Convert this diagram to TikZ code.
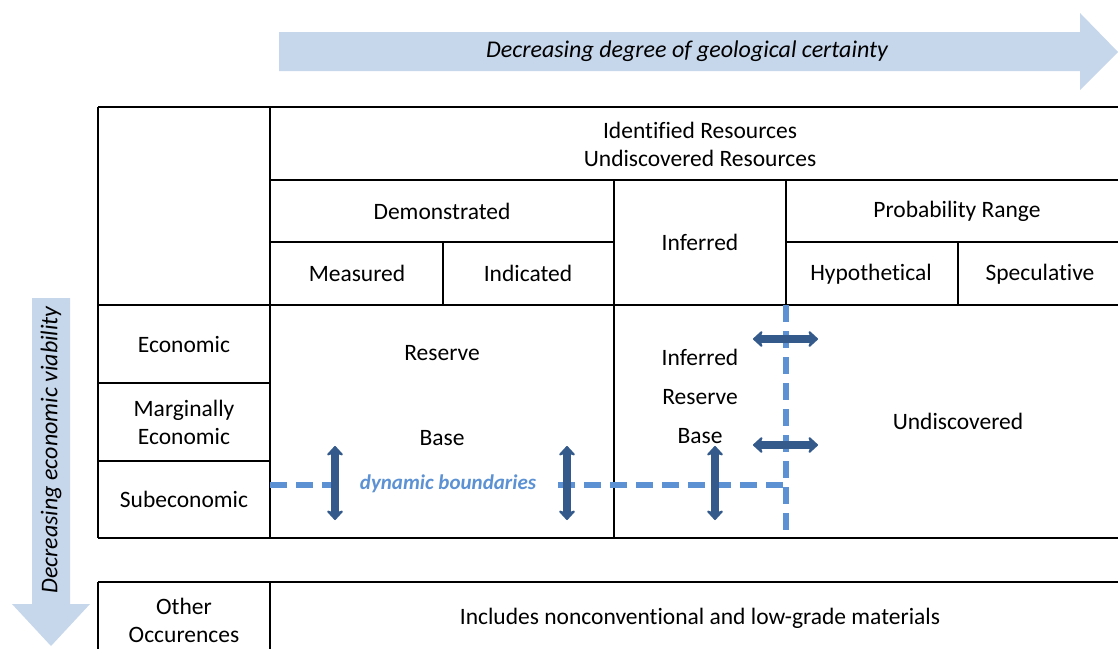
\documentclass[tikz,border=0pt]{standalone}
\usepackage{fontspec}
\setmainfont{Carlito}[Ligatures=NoCommon]
\usetikzlibrary{arrows.meta}
\definecolor{bandblue}{RGB}{198,214,235}
\definecolor{dashblue}{RGB}{92,146,212}
\definecolor{shiftblue}{RGB}{52,90,140}

\begin{document}
\begin{tikzpicture}[
  x=1pt, y=-1pt,
  font=\fontsize{23.5}{28}\selectfont,
  tabline/.style={line width=1.9pt, black},
  cell/.style={align=center, inner sep=0pt},
  band/.style={fill=bandblue, draw=none},
  bandtext/.style={font=\fontsize{24}{28}\selectfont\itshape},
  boundary/.style={dashblue, line width=6pt, dash pattern=on 17pt off 9pt},
  shiftarrow/.style={shiftblue, line width=7.5pt,
    {Stealth[round, length=11pt, width=20pt]}-{Stealth[round, length=11pt, width=20pt]}},
]
\useasboundingbox (0,0) rectangle (1118,648);
\clip (0,0) rectangle (1118,648);
\fill[white] (0,0) rectangle (1118,648);

% === Direction arrows ===
\fill[band] (279,32) -- (1080,32) -- (1080,13) -- (1118,52) -- (1080,90)
  -- (1080,71) -- (279,71) -- cycle;
\node[bandtext] (certainty) at (687,51) {Decreasing degree of geological certainty};
\fill[band] (32,298) -- (70,298) -- (70,604) -- (90,604) -- (51,646) -- (12,604)
  -- (32,604) -- cycle;
\node[bandtext, rotate=90] (viability) at (51,450) {Decreasing economic viability};

% === Main table ===
\draw[tabline] (98,107) -- (1130,107);
\draw[tabline] (270,180) -- (1130,180);
\draw[tabline] (270,242) -- (614,242) (786,242) -- (1130,242);
\draw[tabline] (98,305) -- (1130,305);
\draw[tabline] (98,383) -- (270,383);
\draw[tabline] (98,461) -- (270,461);
\draw[tabline] (98,538) -- (1130,538);
\draw[tabline] (98,107) -- (98,538);
\draw[tabline] (270,107) -- (270,538);
\draw[tabline] (443,242) -- (443,305);
\draw[tabline] (614,180) -- (614,538);
\draw[tabline] (786,180) -- (786,305);
\draw[tabline] (958,242) -- (958,305);

% header cells
\node[cell] (resources) at (700,144) {Identified Resources\\Undiscovered Resources};
\node[cell] (demonstrated) at (442,211) {Demonstrated};
\node[cell] (inferred)     at (700,242) {Inferred};
\node[cell] (probability)  at (957,211) {Probability Range};
\node[cell] (measured)     at (357,273) {Measured};
\node[cell] (indicated)    at (528,273) {Indicated};
\node[cell] (hypothetical) at (871,274) {Hypothetical};
\node[cell] (speculative)  at (1040,274) {Speculative};

% row labels
\node[cell] (economic)    at (184,344) {Economic};
\node[cell] (marginal)    at (184,422) {Marginally\\Economic};
\node[cell] (subeconomic) at (184,499) {Subeconomic};

% body cells
\node[cell] (reserve)   at (442,353) {Reserve};
\node[cell] (base)      at (442,438) {Base};
\node[cell] (infres)    at (700,396) {Inferred\\[11pt]Reserve\\[11pt]Base};
\node[cell] (undisc)    at (958,421) {Undiscovered};

% === Dynamic boundaries ===
\node[cell, dashblue, font=\fontsize{21}{25}\selectfont\bfseries\itshape]
  (dynamic) at (448,484) {dynamic boundaries};
\coordinate (bleft) at (270,485);
\coordinate (bcorner) at (786,485);
\coordinate (btop) at (786,305);
\coordinate (bbottom) at (786,538);
\draw[boundary] (bleft) -- ([xshift=-12pt]dynamic.west |- bleft);
\draw[boundary] ([xshift=22pt]dynamic.east |- bleft) -- (bcorner);
\draw[boundary] (btop) -- (bbottom);

\foreach \x/\n in {335/a, 567/b, 715/c} {
  \coordinate (up\n) at (\x,446);
  \coordinate (dn\n) at (\x,520);
  \draw[shiftarrow] (up\n) -- (dn\n);
}
\foreach \y/\n in {339/a, 445/b} {
  \coordinate (lt\n) at (753,\y);
  \coordinate (rt\n) at (818,\y);
  \draw[shiftarrow] (lt\n) -- (rt\n);
}

% === Other occurrences ===
\draw[tabline] (98,582) -- (1130,582);
\draw[tabline] (98,582) -- (98,660);
\draw[tabline] (270,582) -- (270,660);
\node[cell] (other) at (184,620) {Other\\Occurences};
\node[cell] (includes) at (700,618) {Includes nonconventional and low-grade materials};

\end{tikzpicture}
\end{document}
